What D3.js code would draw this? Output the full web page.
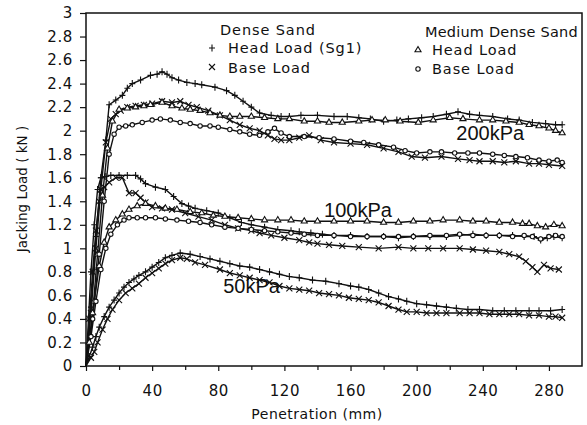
<!DOCTYPE html>
<html>
<head>
<meta charset="utf-8">
<script src="https://cdn.jsdelivr.net/npm/d3@7"></script>
<style>
  body { margin: 0; background: #fff; }
  svg { display: block; }
  .tick text { font-family: "DejaVu Sans", sans-serif; font-size: 15px; fill: #111; letter-spacing: 0.6px; }
  .tick line { stroke: #111; stroke-width: 1.2px; }
  .ttl { font-family: "DejaVu Sans", sans-serif; font-size: 14px; fill: #111; letter-spacing: 0.5px; }
  .leg { font-family: "DejaVu Sans", sans-serif; font-size: 14.5px; fill: #111; letter-spacing: 0.9px; }
  .ylab { font-family: "DejaVu Sans", sans-serif; font-size: 13.5px; fill: #111; }
  .lbl { font-family: "Liberation Sans", Arial, sans-serif; font-size: 20px; fill: #111; }
</style>
</head>
<body>
<div id="chart"></div>
<script>
// tick values
var xTicks = [0, 40, 80, 120, 160, 200, 240, 280];
var xMinor = [20, 60, 100, 140, 180, 220, 260];
var yTicks = [0, 0.2, 0.4, 0.6, 0.8, 1, 1.2, 1.4, 1.6, 1.8, 2, 2.2, 2.4, 2.6, 2.8, 3];

// 200 kPa - [penetration mm, load kN]
var dense200Head = [[0,0],[3,0.5],[6,1.1],[9,1.6],[12,1.92],[14,2.22],[18,2.26],[22,2.3],[25,2.36],[28,2.4],[33,2.43],[39,2.47],[43,2.48],[46,2.5],[49,2.48],[52,2.45],[56,2.43],[61,2.41],[66,2.4],[70,2.39],[78,2.37],[85,2.34],[90,2.3],[95,2.25],[100,2.2],[105,2.15],[112,2.13],[118,2.12],[123,2.12],[130,2.13],[140,2.13],[150,2.12],[158,2.12],[165,2.11],[172,2.1],[180,2.08],[188,2.09],[195,2.1],[203,2.11],[210,2.12],[218,2.14],[225,2.16],[232,2.14],[238,2.13],[246,2.12],[255,2.1],[262,2.09],[270,2.07],[278,2.06],[284,2.05],[288,2.05]];
var dense200Base = [[0,0],[3,0.45],[6,1.0],[9,1.5],[12,1.9],[15,2.1],[18,2.14],[21,2.17],[25,2.2],[30,2.21],[35,2.22],[40,2.23],[46,2.25],[52,2.24],[57,2.25],[62,2.22],[67,2.2],[74,2.17],[81,2.13],[87,2.09],[93,2.05],[99,2.02],[105,2.0],[110,1.96],[114,1.93],[118,1.92],[123,1.92],[129,1.94],[135,1.96],[142,1.92],[150,1.9],[160,1.89],[170,1.88],[180,1.85],[189,1.82],[197,1.78],[205,1.77],[215,1.78],[225,1.76],[232,1.75],[238,1.74],[246,1.74],[253,1.73],[260,1.74],[268,1.72],[274,1.72],[280,1.71],[288,1.7]];
var medium200Head = [[0,0],[4,0.45],[7,0.95],[10,1.45],[13,1.85],[16,2.08],[20,2.18],[25,2.19],[30,2.2],[35,2.21],[39,2.22],[46,2.24],[52,2.21],[58,2.19],[63,2.18],[69,2.17],[75,2.15],[81,2.13],[87,2.12],[93,2.12],[100,2.12],[108,2.11],[116,2.1],[123,2.1],[132,2.08],[140,2.08],[147,2.07],[155,2.07],[165,2.08],[173,2.09],[181,2.09],[190,2.08],[201,2.07],[210,2.09],[220,2.11],[228,2.1],[238,2.09],[246,2.09],[254,2.08],[262,2.07],[268,2.05],[274,2.04],[280,2.02],[284,2.0],[288,1.98]];
var medium200Base = [[0,0],[4,0.4],[8,0.95],[11,1.4],[14,1.8],[17,1.97],[20,2.03],[24,2.04],[28,2.05],[34,2.07],[40,2.09],[45,2.1],[51,2.09],[57,2.07],[63,2.06],[69,2.04],[75,2.04],[80,2.03],[87,2.01],[93,1.99],[99,1.97],[105,1.96],[110,1.99],[114,2.02],[118,1.98],[123,1.95],[132,1.95],[141,1.94],[150,1.93],[160,1.91],[168,1.9],[177,1.88],[186,1.86],[193,1.83],[200,1.81],[208,1.82],[215,1.82],[223,1.81],[231,1.81],[238,1.81],[246,1.8],[253,1.79],[260,1.78],[267,1.77],[274,1.75],[280,1.74],[285,1.75],[288,1.73]];

// 100 kPa
var dense100Head = [[0,0],[1.5,0.4],[3,0.8],[5,1.2],[7,1.5],[9,1.6],[12,1.61],[15,1.62],[20,1.62],[25,1.62],[30,1.62],[33,1.59],[36,1.55],[42,1.52],[48,1.5],[53,1.44],[58,1.38],[62,1.36],[66,1.34],[73,1.32],[80,1.3],[87,1.26],[94,1.22],[100,1.2],[108,1.18],[116,1.16],[124,1.15],[129,1.14],[136,1.13],[143,1.12],[150,1.11],[160,1.11],[170,1.1],[180,1.1],[189,1.09],[198,1.1],[208,1.1],[218,1.1],[226,1.11],[234,1.12],[242,1.11],[250,1.11],[258,1.11],[265,1.1],[271,1.1],[275,1.07],[279,1.09],[283,1.1],[288,1.09]];
var dense100Base = [[0,0],[2,0.4],[4,0.8],[6,1.15],[8,1.4],[11,1.52],[14,1.56],[18,1.6],[22,1.6],[26,1.47],[30,1.47],[33,1.43],[36,1.39],[40,1.35],[46,1.34],[52,1.33],[60,1.3],[68,1.27],[76,1.24],[84,1.2],[92,1.17],[100,1.15],[105,1.13],[112,1.11],[120,1.09],[129,1.07],[135,1.05],[140,1.04],[147,1.03],[155,1.02],[165,1.01],[177,1.0],[189,1.01],[198,1.0],[207,1.0],[216,1.0],[226,1.0],[234,0.99],[242,0.98],[250,0.97],[256,0.95],[262,0.93],[266,0.89],[270,0.84],[273,0.8],[277,0.86],[281,0.83],[286,0.82]];
var medium100Head = [[0,0],[2,0.2],[5,0.55],[8,0.85],[11,1.05],[14,1.18],[18,1.24],[22,1.29],[26,1.33],[31,1.36],[36,1.38],[42,1.36],[48,1.34],[55,1.33],[63,1.31],[70,1.3],[77,1.28],[84,1.27],[92,1.26],[100,1.25],[108,1.24],[116,1.24],[124,1.24],[132,1.23],[140,1.23],[150,1.23],[160,1.23],[170,1.23],[180,1.22],[189,1.22],[198,1.23],[208,1.23],[216,1.24],[226,1.24],[234,1.23],[242,1.23],[250,1.22],[258,1.22],[264,1.21],[268,1.21],[273,1.19],[278,1.18],[283,1.2],[288,1.19]];
var medium100Base = [[0,0],[3,0.25],[6,0.55],[9,0.82],[12,1.0],[15,1.12],[19,1.2],[23,1.24],[26,1.26],[31,1.26],[36,1.26],[42,1.26],[48,1.25],[55,1.24],[62,1.23],[69,1.22],[76,1.2],[84,1.18],[92,1.17],[100,1.16],[108,1.15],[116,1.14],[124,1.13],[132,1.12],[140,1.11],[150,1.11],[160,1.1],[170,1.1],[180,1.1],[189,1.1],[198,1.1],[208,1.11],[218,1.11],[226,1.12],[234,1.11],[242,1.11],[250,1.11],[258,1.1],[265,1.11],[270,1.1],[275,1.08],[280,1.1],[284,1.11],[288,1.1]];

// 50 kPa
var dense50Head = [[0,0],[2,0.08],[4,0.16],[6,0.25],[8,0.33],[11,0.42],[14,0.5],[17,0.56],[20,0.62],[23,0.67],[26,0.71],[29,0.74],[32,0.77],[36,0.8],[40,0.84],[44,0.88],[48,0.92],[52,0.94],[57,0.96],[63,0.95],[69,0.93],[75,0.91],[81,0.89],[87,0.87],[93,0.85],[99,0.84],[105,0.82],[111,0.8],[117,0.78],[123,0.76],[129,0.75],[137,0.73],[145,0.72],[153,0.7],[160,0.68],[165,0.67],[171,0.65],[177,0.62],[183,0.59],[189,0.57],[194,0.55],[200,0.53],[206,0.52],[212,0.51],[218,0.5],[224,0.49],[231,0.48],[238,0.48],[246,0.47],[253,0.47],[260,0.47],[268,0.47],[274,0.47],[281,0.47],[288,0.48]];
var dense50Base = [[0,0],[3,0.07],[5,0.12],[7,0.2],[10,0.31],[13,0.4],[16,0.48],[20,0.56],[24,0.62],[28,0.66],[32,0.7],[36,0.75],[40,0.79],[44,0.83],[48,0.87],[52,0.9],[57,0.92],[61,0.91],[66,0.88],[72,0.86],[81,0.82],[87,0.79],[93,0.77],[99,0.75],[105,0.73],[111,0.71],[117,0.68],[123,0.66],[129,0.65],[135,0.64],[141,0.62],[147,0.61],[153,0.6],[159,0.58],[165,0.57],[171,0.56],[177,0.54],[183,0.51],[189,0.48],[194,0.46],[200,0.46],[206,0.45],[212,0.45],[218,0.45],[226,0.45],[232,0.45],[238,0.45],[244,0.44],[250,0.44],[256,0.44],[262,0.44],[268,0.43],[274,0.43],[280,0.42],[284,0.42],[288,0.41]];

var W = 587, H = 425;
var svg = d3.select('#chart').append('svg')
	.attr('width', W).attr('height', H);

var x = d3.scaleLinear().domain([0, 300]).range([86, 582]);
var y = d3.scaleLinear().domain([0, 3]).range([366, 13]);

// axes
var yAxis = d3.axisLeft(y).tickValues(yTicks).tickSize(6).tickPadding(7)
	.tickFormat(d3.format('~g'));
var gy = svg.append('g').attr('transform', 'translate(86,0)').call(yAxis);
gy.select('.domain').remove();

var xAxis = d3.axisBottom(x).tickValues(xTicks).tickSize(5).tickPadding(14);
var gx = svg.append('g').attr('transform', 'translate(0,366)').call(xAxis);
gx.select('.domain').remove();
var xAxisMinor = d3.axisBottom(x).tickValues(xMinor).tickSize(4).tickFormat('');
var gx2 = svg.append('g').attr('transform', 'translate(0,366)').call(xAxisMinor);
gx2.select('.domain').remove();

// frame
svg.append('rect')
	.attr('x', 86).attr('y', 13).attr('width', 496).attr('height', 353)
	.attr('fill', 'none').attr('stroke', '#111').attr('stroke-width', 1.5);

// axis titles
svg.append('text').attr('class', 'ttl')
	.attr('x', 317).attr('y', 419).attr('text-anchor', 'middle')
	.text('Penetration (mm)');
svg.append('text').attr('class', 'ylab')
	.attr('transform', 'translate(27,189) rotate(-90)').attr('text-anchor', 'middle')
	.text('Jacking Load ( kN )');

// pressure labels, drawn under the curves
svg.append('text').attr('class', 'lbl').attr('x', x(224)).attr('y', y(1.92)).text('200kPa');
svg.append('text').attr('class', 'lbl').attr('x', x(144)).attr('y', y(1.265)).text('100kPa');
svg.append('text').attr('class', 'lbl').attr('x', x(83)).attr('y', y(0.62)).text('50kPa');

// marker drawing
function drawMarker(g, kind, px, py) {
	if (kind == 'plus') {
		g.append('path').attr('d', 'M' + (px - 3) + ',' + py + 'H' + (px + 3) + 'M' + px + ',' + (py - 3.5) + 'V' + (py + 3.5));
	} else if (kind == 'cross') {
		g.append('path').attr('d', 'M' + (px - 3) + ',' + (py - 3) + 'L' + (px + 3) + ',' + (py + 3) + 'M' + (px - 3) + ',' + (py + 3) + 'L' + (px + 3) + ',' + (py - 3));
	} else if (kind == 'tri') {
		g.append('path').attr('d', d3.symbol(d3.symbolTriangle, 16)())
			.attr('transform', 'translate(' + px + ',' + py + ')').attr('fill', '#fff');
	} else {
		g.append('circle').attr('cx', px).attr('cy', py).attr('r', 2.2).attr('fill', '#fff');
	}
}

var series = [
	{ data: dense200Head, kind: 'plus' },
	{ data: dense200Base, kind: 'cross' },
	{ data: medium200Head, kind: 'tri' },
	{ data: medium200Base, kind: 'circ' },
	{ data: dense100Head, kind: 'plus' },
	{ data: dense100Base, kind: 'cross' },
	{ data: medium100Head, kind: 'tri' },
	{ data: medium100Base, kind: 'circ' },
	{ data: dense50Head, kind: 'plus' },
	{ data: dense50Base, kind: 'cross' }
];

var line = d3.line()
	.x(function(d) { return x(d[0]); })
	.y(function(d) { return y(d[1]); });

var plot = svg.append('g');
series.forEach(function(s) {
	plot.append('path').datum(s.data)
		.attr('d', line)
		.attr('fill', 'none').attr('stroke', '#111').attr('stroke-width', 1.4);
});
series.forEach(function(s) {
	var g = plot.append('g').attr('stroke', '#111').attr('stroke-width', 1.1).attr('fill', 'none');
	s.data.forEach(function(d, i) {
		if (i == 0) return;
		drawMarker(g, s.kind, x(d[0]), y(d[1]));
	});
});

// legend
var legTxt = [
	{ t: 'Dense Sand', x: 220, y: 35 },
	{ t: 'Head Load (Sg1)', x: 228, y: 53, kind: 'plus', mx: 212, my: 48 },
	{ t: 'Base Load', x: 228, y: 73, kind: 'cross', mx: 212, my: 67 },
	{ t: 'Medium Dense Sand', x: 425, y: 37, tight: true },
	{ t: 'Head Load', x: 432, y: 55, kind: 'tri', mx: 418, my: 50 },
	{ t: 'Base Load', x: 432, y: 74, kind: 'circ', mx: 418, my: 69 }
];
var leg = svg.append('g');
var legMarks = leg.append('g').attr('stroke', '#111').attr('stroke-width', 1.1).attr('fill', 'none');
legTxt.forEach(function(l) {
	var t = leg.append('text').attr('class', 'leg').attr('x', l.x).attr('y', l.y).text(l.t);
	// the long heading runs right up to the frame in the original
	if (l.tight) t.style('letter-spacing', '0.2px');
	if (l.kind) drawMarker(legMarks, l.kind, l.mx, l.my);
});
</script>
</body>
</html>
